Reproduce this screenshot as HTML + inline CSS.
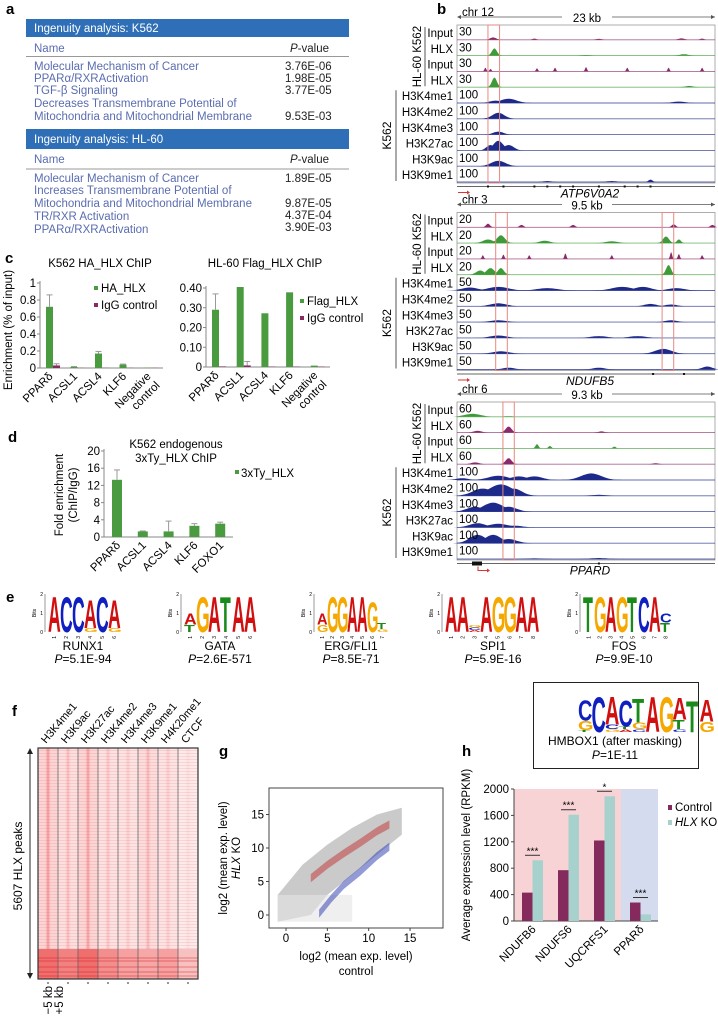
<!DOCTYPE html>
<html><head><meta charset="utf-8"><style>
html,body{margin:0;padding:0;background:#fff}
svg{display:block;font-family:"Liberation Sans",sans-serif}
</style></head><body>
<svg id="fig" width="718" height="1016" viewBox="0 0 718 1016" xmlns="http://www.w3.org/2000/svg">
<defs>
<linearGradient id="colg" x1="0" x2="1" y1="0" y2="0"><stop offset="0" stop-color="#fff" stop-opacity="0"/><stop offset="0.5" stop-color="#e8202a" stop-opacity="0.45"/><stop offset="1" stop-color="#fff" stop-opacity="0"/></linearGradient>
<pattern id="rows" width="4" height="3" patternUnits="userSpaceOnUse"><rect width="4" height="1" fill="#e83030" opacity="0.12"/></pattern>
</defs>
<!-- panel a -->
<g font-size="11.5">
<text x="6" y="14" font-size="15" font-weight="bold">a</text>
<rect x="26" y="19" width="323" height="18" fill="#2f6fb7"/>
<text x="34" y="32" fill="#fff">Ingenuity analysis: K562</text>
<text x="34" y="52" fill="#5a6db0">Name</text><text x="329" y="52" text-anchor="end" fill="#222"><tspan font-style="italic">P</tspan>-value</text>
<line x1="26" y1="56.5" x2="349" y2="56.5" stroke="#999" stroke-width="1"/>
<g fill="#5a6db0"><text x="34" y="70">Molecular Mechanism of Cancer</text><text x="34" y="82">PPARα/RXRActivation</text><text x="34" y="94">TGF-β Signaling</text><text x="34" y="107">Decreases Transmembrane Potential of</text><text x="34" y="120">Mitochondria and Mitochondrial Membrane</text></g>
<g fill="#222"><text x="285" y="70">3.76E-06</text><text x="285" y="82">1.98E-05</text><text x="285" y="94">3.77E-05</text><text x="285" y="120">9.53E-03</text></g>
<rect x="26" y="129" width="323" height="20" fill="#2f6fb7"/>
<text x="34" y="143" fill="#fff">Ingenuity analysis: HL-60</text>
<text x="34" y="163" fill="#5a6db0">Name</text><text x="329" y="163" text-anchor="end" fill="#222"><tspan font-style="italic">P</tspan>-value</text>
<line x1="26" y1="169" x2="349" y2="169" stroke="#999"/>
<g fill="#5a6db0"><text x="34" y="182">Molecular Mechanism of Cancer</text><text x="34" y="194">Increases Transmembrane Potential of</text><text x="34" y="207">Mitochondria and Mitochondrial Membrane</text><text x="34" y="220">TR/RXR Activation</text><text x="34" y="233">PPARα/RXRActivation</text></g>
<g fill="#222"><text x="285" y="182">1.89E-05</text><text x="285" y="207">9.87E-05</text><text x="285" y="219">4.37E-04</text><text x="285" y="231">3.90E-03</text></g>
</g>
<text x="437" y="14" font-size="15" font-weight="bold">b</text>
<g id="tracks"></g>
<g id="pc"></g>
<g id="pd"></g>
<g id="pe"></g>
<g id="pf"></g>
<g id="pg"></g>
<g id="ph"></g>
</svg>
<script>
const NS="http://www.w3.org/2000/svg";
function mk(parent,tag,attrs,text){const e=document.createElementNS(NS,tag);for(const k in attrs)e.setAttribute(k,attrs[k]);if(text!==undefined)e.textContent=text;parent.appendChild(e);return e;}

// ---------- panel c data ----------
const cCats=["PPARδ","ACSL1","ACSL4","KLF6","Negative control"];
const cLeftHA=[0.72,0.012,0.17,0.04,0.004];
const cLeftHAErr=[0.14,0.005,0.025,0.006,0];
const cLeftIgG=[0.03,0.002,0.002,0.002,0.002];
const cLeftIgGErr=[0.02,0,0,0,0];
const cLeftTicks=[0,0.2,0.4,0.6,0.8,1.0];
const cRightFlag=[0.29,0.405,0.272,0.378,0.007];
const cRightFlagErr=[0.08,0,0,0,0];
const cRightIgG=[0.003,0.008,0.002,0.002,0.002];
const cRightIgGErr=[0,0.02,0,0,0];
const cRightTicks=[0,0.10,0.20,0.30,0.40];
const cRightTickLabels=["0","0.10","0.20","0.30","0.40"];
// ---------- panel d data ----------
const dCats=["PPARδ","ACSL1","ACSL4","KLF6","FOXO1"];
const dVals=[13.3,1.3,1.3,2.6,3.1];
const dErr=[2.3,0.1,2.4,0.5,0.35];
const dTicks=[0,4,8,12,16,20];
// ---------- panel h data ----------
const hCats=["NDUFB6","NDUFS6","UQCRFS1","PPARδ"];
const hControl=[430,770,1220,280];
const hKO=[920,1610,1890,100];
const hSig=["***","***","*","***"];
const hTicks=[0,400,800,1200,1600,2000];
// ---------- panel g data ----------
const gTicks=[0,5,10,15];
const gGrayUpper=[[-1,3],[2,7.5],[5,10.5],[8,13],[11,15],[14,16]];
const gGrayLower=[[14,12],[11,9],[8,6],[5,3],[3,0],[-1,-1]];
const gRedX=[3,5,7,9,11,12.5];
const gRedY=[5.5,7.5,9.2,10.8,12.5,13.5];
const gBlueX=[4,5.5,7,9,11,12.5];
const gBlueY=[0.2,2.5,4.5,6.5,8.8,10.2];

function ylab(g,x,y,t,size){const e=mk(g,'text',{x:x,y:y,'text-anchor':'end','font-size':size||11});e.textContent=t;return e;}
function rotLabel(g,x,y,t,size,ang){return mk(g,'text',{x:x,y:y,'text-anchor':'end','font-size':size||11,transform:`rotate(${ang||-45} ${x} ${y})`},t);}

function barChart(g,o){
  const ys=v=>o.y0-(v/o.max)*(o.y0-o.yTop);
  mk(g,'line',{x1:o.x0,y1:o.yTop-2,x2:o.x0,y2:o.y0,stroke:'#888'});
  mk(g,'line',{x1:o.x0,y1:o.y0,x2:o.x1,y2:o.y0,stroke:'#888'});
  o.ticks.forEach((t,i)=>{mk(g,'line',{x1:o.x0-3,y1:ys(t),x2:o.x0,y2:ys(t),stroke:'#888'});ylab(g,o.x0-4,ys(t)+4,o.tickLabels?o.tickLabels[i]:String(t),11.5);});
  o.cats.forEach((c,i)=>{
    const bx=o.x0+o.off+i*o.step;
    const r=mk(g,'rect',{x:bx,y:ys(o.s1[i]),width:o.bw,height:o.y0-ys(o.s1[i]),fill:'#4a9a40'});
    
    
    if(o.e1[i]>0){mk(g,'line',{x1:bx+o.bw/2,y1:ys(o.s1[i]),x2:bx+o.bw/2,y2:ys(o.s1[i]+o.e1[i]),stroke:'#999'});mk(g,'line',{x1:bx+o.bw/2-3,y1:ys(o.s1[i]+o.e1[i]),x2:bx+o.bw/2+3,y2:ys(o.s1[i]+o.e1[i]),stroke:'#999'});}
    if(o.s2){const r2=mk(g,'rect',{x:bx+o.bw,y:ys(o.s2[i]),width:o.bw2,height:o.y0-ys(o.s2[i]),fill:'#8a2a5e'});
      
      
      if(o.e2[i]>0){const cx=bx+o.bw+o.bw2/2;mk(g,'line',{x1:cx,y1:ys(o.s2[i]),x2:cx,y2:ys(o.s2[i]+o.e2[i]),stroke:'#999'});mk(g,'line',{x1:cx-3,y1:ys(o.s2[i]+o.e2[i]),x2:cx+3,y2:ys(o.s2[i]+o.e2[i]),stroke:'#999'});}}
    const lx=bx+o.bw/2+4, ly=o.y0+9;
    if(c==="Negative control"){rotLabel(g,lx,ly,"Negative",11.5);rotLabel(g,lx+9,ly+9,"control",11.5);}
    else rotLabel(g,lx,ly,c,11.5);
  });
}
// panel c
const pc=document.getElementById('pc');
mk(pc,'text',{x:5,y:263,'font-size':15,'font-weight':'bold'},'c');
mk(pc,'text',{x:100,y:267,'text-anchor':'middle','font-size':11.5},'K562 HA_HLX ChIP');
mk(pc,'text',{x:265,y:267,'text-anchor':'middle','font-size':11.5},'HL-60 Flag_HLX ChIP');
mk(pc,'text',{x:12,y:330,'text-anchor':'middle','font-size':11.5,transform:'rotate(-90 12 330)'},'Enrichment (% of input)');
barChart(pc,{id:'c-left',x0:40,x1:163,y0:368,yTop:283,max:1.0,ticks:cLeftTicks,cats:cCats,s1:cLeftHA,e1:cLeftHAErr,s2:cLeftIgG,e2:cLeftIgGErr,off:6,step:24.5,bw:7,bw2:7});
barChart(pc,{id:'c-right',x0:206,x1:330,y0:367,yTop:288,max:0.40,ticks:cRightTicks,tickLabels:cRightTickLabels,cats:cCats,s1:cRightFlag,e1:cRightFlagErr,s2:cRightIgG,e2:cRightIgGErr,off:6,step:24.7,bw:7,bw2:7});
[[94,292,'#4a9a40','HA_HLX'],[94,309,'#8a2a5e','IgG control'],[300,305,'#4a9a40','Flag_HLX'],[300,322,'#8a2a5e','IgG control']].forEach(l=>{
  const s=mk(pc,'rect',{x:l[0],y:l[1]-6,width:4,height:4,fill:l[2]});
  
  
  mk(pc,'text',{x:l[0]+7,y:l[1],'font-size':11.5},l[3]);});
// panel d
const pd=document.getElementById('pd');
mk(pd,'text',{x:8,y:442,'font-size':15,'font-weight':'bold'},'d');
mk(pd,'text',{x:176,y:448,'text-anchor':'middle','font-size':11.5},'K562 endogenous');
mk(pd,'text',{x:176,y:462,'text-anchor':'middle','font-size':11.5},'3xTy_HLX ChIP');
mk(pd,'text',{x:63,y:495,'text-anchor':'middle','font-size':11.5,transform:'rotate(-90 63 495)'},'Fold enrichment');
mk(pd,'text',{x:77,y:495,'text-anchor':'middle','font-size':11.5,transform:'rotate(-90 77 495)'},'(ChIP/IgG)');
barChart(pd,{id:'d',x0:104,x1:233,y0:537,yTop:451,max:20,ticks:dTicks,cats:dCats,s1:dVals,e1:dErr,off:8,step:25.8,bw:10});
mk(pd,'rect',{x:235,y:470,width:4,height:4,fill:'#4a9a40'});
mk(pd,'text',{x:241,y:477,'font-size':11.5},'3xTy_HLX');

// ---------- panel b tracks ----------
const tracksG=document.getElementById('tracks');
const TX0=457,TX1=715,TW=TX1-TX0;
const COL={in:'#8b2a6b',hlx:'#3f9b3a',hm:'#1e2a8a'};
const g1Peaks=[
 ['in',[[0.14,0.2,3],[0.3,0.1,2],[0.55,0.08,3],[0.87,0.12,3],[0.95,0.1,2]]],
 ['hlx',[[0.145,0.6,2.5],[0.88,0.12,4],[0.5,0.05,4]]],
 ['in',[[0.11,0.3,1],[0.13,0.2,1],[0.31,0.25,1],[0.38,0.3,1],[0.5,0.35,1],[0.66,0.3,1],[0.82,0.3,1],[0.95,0.3,1]]],
 ['hlx',[[0.145,0.8,2.5],[0.9,0.1,4]]],
 ['hm',[[0.15,0.2,6],[0.2,0.35,8],[0.86,0.12,6]]],
 ['hm',[[0.16,0.5,6]]],
 ['hm',[[0.16,0.25,5]]],
 ['hm',[[0.13,0.45,4],[0.16,0.8,5],[0.2,0.45,5]]],
 ['hm',[[0.16,0.45,7]]],
 ['hm',[[0.6,0.08,5],[0.75,0.2,2],[0.35,0.08,4]]]];
const g2Peaks=[
 ['in',[[0.12,0.3,2],[0.25,0.2,2],[0.45,0.2,2],[0.84,0.25,2],[0.99,0.2,2]]],
 ['hlx',[[0.12,0.3,5],[0.17,0.65,4],[0.34,0.2,5],[0.6,0.15,6],[0.81,0.55,3],[0.86,0.3,2]]],
 ['in',[[0.1,0.3,1],[0.18,0.35,1],[0.28,0.3,1],[0.42,0.45,1],[0.6,0.3,1],[0.83,0.55,1],[0.86,0.4,1],[0.95,0.3,1]]],
 ['hlx',[[0.09,0.35,4],[0.13,0.55,4],[0.17,0.55,3],[0.82,0.8,2.5]]],
 ['hm',[[0.05,0.25,8],[0.16,0.3,10],[0.35,0.2,10],[0.64,0.3,10],[0.72,0.3,8],[0.85,0.2,8]]],
 ['hm',[[0.16,0.25,8],[0.75,0.2,6],[0.83,0.15,6]]],
 ['hm',[[0.16,0.15,8],[0.83,0.15,6]]],
 ['hm',[[0.16,0.2,8],[0.55,0.15,8],[0.7,0.15,8]]],
 ['hm',[[0.17,0.2,8],[0.8,0.4,8]]],
 ['hm',[[0.2,0.15,6],[0.55,0.15,6],[0.97,0.25,5]]]];
const g3Peaks=[
 ['hlx',[[0.06,0.25,8],[0.2,0.05,4]]],
 ['in',[[0.08,0.15,4],[0.2,0.5,3],[0.56,0.1,3]]],
 ['hlx',[[0.31,0.35,1.5],[0.36,0.2,1.5],[0.61,0.15,1.5]]],
 ['in',[[0.07,0.15,4],[0.2,0.5,3],[0.77,0.08,3]]],
 ['hm',[[0.02,0.15,6],[0.16,0.35,10],[0.24,0.3,8],[0.3,0.3,8],[0.52,0.55,10]]],
 ['hm',[[0.1,0.6,10],[0.17,0.95,12],[0.22,0.6,8],[0.55,0.08,8]]],
 ['hm',[[0.07,0.4,8],[0.14,0.75,10],[0.2,0.4,8]]],
 ['hm',[[0.08,0.35,8],[0.16,0.3,10],[0.22,0.15,8]]],
 ['hm',[[0.08,0.7,8],[0.14,0.7,8],[0.2,0.35,8]]],
 ['hm',[[0.55,0.08,8],[0.3,0.05,8]]]];
const groups=[
 {chr:'chr 12',kb:'23 kb',top:25,peaks:g1Peaks,scales:['30','30','30','30','100','100','100','100','100','100'],boxes:[[0.12,0.165]],gene:'ATP6V0A2',arrowX:458,geneTicks:[0.12,0.18,0.3,0.35,0.4,0.45,0.55,0.65,0.7,0.75]},
 {chr:'chr 3',kb:'9.5 kb',top:212.5,peaks:g2Peaks,scales:['20','20','20','20','50','50','50','50','50','50'],boxes:[[0.15,0.195],[0.795,0.84]],gene:'NDUFB5',arrowX:458,geneTicks:[0.76,0.88]},
 {chr:'chr 6',kb:'9.3 kb',top:402,peaks:g3Peaks,scales:['60','60','60','60','100','100','100','100','100','100'],boxes:[[0.178,0.222]],gene:'PPARD',arrowX:478,geneTicks:[0.55]}];
const TH=15.8;
const names=['Input','HLX','Input','HLX','H3K4me1','H3K4me2','H3K4me3','H3K27ac','H3K9ac','H3K9me1'];
function peakPath(base,cx,h,w){let d=`M${cx-3*w},${base}`;for(let k=-3;k<=3;k+=0.25){const x=cx+k*w;d+=` L${x.toFixed(1)},${(base-h*Math.exp(-k*k/2)).toFixed(1)}`;}return d+` L${cx+3*w},${base} Z`;}
groups.forEach((gr,gi)=>{
  const top=gr.top, bot=top+TH*10;
  const gg=mk(tracksG,'g',{});
  
  
  const ry=top-8;
  mk(gg,'line',{x1:TX0+2,y1:ry,x2:TX1,y2:ry,stroke:'#555','stroke-width':0.8});
  mk(gg,'path',{d:`M${TX0},${ry} l4,-2 v4 z M${TX1},${ry} l-4,-2 v4 z`,fill:'#555'});
  mk(gg,'rect',{x:TX0+48,y:ry-6,width:12,height:4,fill:'#fff'});
  mk(gg,'text',{x:TX0+5,y:ry-1,'font-size':11.5},gr.chr);
  mk(gg,'rect',{x:TX0+TW/2-24,y:ry-5,width:50,height:10,fill:'#fff'});
  mk(gg,'text',{x:TX0+TW/2+1,y:ry+5,'text-anchor':'middle','font-size':11.5},gr.kb);
  mk(gg,'rect',{x:TX0,y:top,width:TW,height:TH*10,fill:'none',stroke:'#999','stroke-width':0.8});
  gr.peaks.forEach((tr,ti)=>{
    const base=top+TH*(ti+1)-1;
    const c=COL[tr[0]];
    mk(gg,'line',{x1:TX0,y1:base,x2:TX1,y2:base,stroke:c,'stroke-width':0.9,opacity:0.7});
    tr[1].forEach(p=>{const pth=mk(gg,'path',{d:peakPath(base,TX0+p[0]*TW,p[1]*12,p[2]),fill:c});
      
      });
    mk(gg,'text',{x:TX0+2,y:top+TH*ti+10.5,'font-size':11.5},gr.scales[ti]);
    mk(gg,'text',{x:453,y:top+TH*ti+12,'text-anchor':'end','font-size':11.5},names[ti]);
  });
  gr.boxes.forEach(b=>mk(gg,'rect',{x:TX0+b[0]*TW,y:top,width:(b[1]-b[0])*TW,height:TH*10,fill:'none',stroke:'#e58a80','stroke-width':1}));
  const gy=bot+3.5;
  mk(gg,'line',{x1:TX0,y1:gy,x2:TX1,y2:gy,stroke:'#333','stroke-width':0.8});
  gr.geneTicks.forEach(t=>mk(gg,'rect',{x:TX0+t*TW-1,y:gy-1,width:2,height:2,fill:'#111'}));
  if(gi==2) mk(gg,'rect',{x:TX0+15,y:gy-2,width:10,height:4,fill:'#111'});
  mk(gg,'path',{d:gi==2?`M${gr.arrowX},${gy+3} v4 h10`:`M${gr.arrowX},${gy+6} h10`,stroke:'#d33',fill:'none','stroke-width':1});
  mk(gg,'path',{d:`M${gr.arrowX+12},${gy+(gi==2?7:6)} l-3,-2 v4 z`,fill:'#d33'});
  mk(gg,'text',{x:590,y:gy+11,'text-anchor':'middle','font-size':12,'font-style':'italic'},gr.gene);
  mk(gg,'line',{x1:425,y1:top+2,x2:425,y2:top+TH*4-2,stroke:'#555'});
  mk(gg,'text',{x:421,y:top+TH*2,'text-anchor':'middle','font-size':11.5,transform:`rotate(-90 421 ${top+TH*2})`},'HL-60 K562');
  mk(gg,'line',{x1:396,y1:top+TH*4+2,x2:396,y2:bot-2,stroke:'#555'});
  mk(gg,'text',{x:391,y:top+TH*7,'text-anchor':'middle','font-size':12,transform:`rotate(-90 391 ${top+TH*7})`},'K562');
});

// ---------- panel e motifs ----------
const pe=document.getElementById('pe');
mk(pe,'text',{x:6,y:602,'font-size':15,'font-weight':'bold'},'e');
const LC={A:'#d01010',C:'#1020c0',G:'#f5a800',T:'#1a8a1a'};
const motifNames=["RUNX1","GATA","ERG/FLI1","SPI1","FOS"];
const motifP=["5.1E-94","2.6E-571","8.5E-71","5.9E-16","9.9E-10"];
const motifSeqs=[
 [[['A',1.9]],[['C',1.9]],[['C',1.9]],[['A',1.5],['G',0.2]],[['C',1.9]],[['A',1.5],['G',0.2]]],
 [[['A',0.6],['T',0.4]],[['G',1.9]],[['A',1.9]],[['T',1.9]],[['A',1.9]],[['A',1.9]]],
 [[['A',0.6],['G',0.4]],[['G',1.9]],[['G',1.9]],[['A',1.9]],[['A',1.9]],[['G',1.6]],[['T',0.3],['G',0.15]]],
 [[['A',1.9]],[['A',1.9]],[['C',0.15],['G',0.15],['A',0.1]],[['A',1.9]],[['G',1.9]],[['G',1.9]],[['A',1.9]],[['A',1.9]]],
 [[['T',1.9]],[['G',1.9]],[['A',1.9]],[['G',1.9]],[['T',1.9]],[['C',1.9]],[['A',1.9]],[['T',0.5],['C',0.5]]]];
const motifX=[48,184,317,445,583];
const motifW=[12,12,10,11.7,11];
const motifCX=[83,220,351,493,624];
const LB=632, BIT=19;
function drawLetter(g,ch,x,w,y0,h){
  if(h<0.5)return;
  const fs=20;
  const sx=w/(fs*0.68), sy=h/(fs*0.72);
  const t=mk(g,'text',{x:0,y:0,'font-size':fs,'font-weight':'bold',fill:LC[ch],transform:`translate(${x},${y0}) scale(${sx.toFixed(3)},${sy.toFixed(3)})`},ch);
  
  
}
motifSeqs.forEach((m,mi)=>{
  const g=mk(pe,'g',{});
  
  
  const x0=motifX[mi], w=motifW[mi];
  mk(g,'line',{x1:x0-3,y1:LB-2*BIT,x2:x0-3,y2:LB,stroke:'#555','stroke-width':0.6});
  [0,1,2].forEach(b=>{mk(g,'text',{x:x0-5,y:LB-b*BIT+2,'font-size':5,'text-anchor':'end'},String(b));});
  mk(g,'text',{x:x0-12,y:LB-BIT,'font-size':5,'text-anchor':'middle',transform:`rotate(-90 ${x0-12} ${LB-BIT})`},'Bits');
  m.forEach((col,ci)=>{
    let y=LB;
    const sorted=col.slice().sort((a,b)=>a[1]-b[1]);
    sorted.forEach(l=>{const h=l[1]*BIT;drawLetter(g,l[0],x0+ci*w,w,y,h);y-=h;});
    mk(g,'text',{x:x0+ci*w+w/2+2,y:LB+4,'font-size':5,transform:`rotate(-90 ${x0+ci*w+w/2+2} ${LB+4})`,'text-anchor':'end'},String(ci+1));
  });
  mk(g,'text',{x:motifCX[mi],y:650,'text-anchor':'middle','font-size':12},motifNames[mi]);
  const p=mk(g,'text',{x:motifCX[mi],y:663,'text-anchor':'middle','font-size':12});
  mk(p,'tspan',{'font-style':'italic'},'P');mk(p,'tspan',{},'='+motifP[mi]);
});
const hb=mk(pe,'g',{});


mk(hb,'rect',{x:533.5,y:682.5,width:165,height:86,fill:'none',stroke:'#222','stroke-width':1});
const hmSeq=[[['T',0.1],['G',0.5],['C',1.1]],[['C',1.9]],[['G',0.15],['C',0.25],['A',1.5]],[['A',0.15],['T',0.15],['C',1.4]],[['C',0.15],['G',0.35],['T',1.3]],[['A',1.9]],[['G',1.9]],[['C',0.15],['T',0.5],['A',1.2]],[['T',1.7]],[['G',0.55],['A',1.2]]];
let hx=578;
hmSeq.forEach((col,ci)=>{let y=732;col.forEach(l=>{const h=l[1]*BIT;drawLetter(hb,l[0],hx+ci*13.5,13.5,y,h);y-=h;});});
mk(hb,'text',{x:615,y:745,'text-anchor':'middle','font-size':12},'HMBOX1 (after masking)');
const hp=mk(hb,'text',{x:615,y:759,'text-anchor':'middle','font-size':12});mk(hp,'tspan',{'font-style':'italic'},'P');mk(hp,'tspan',{},'=1E-11');

// ---------- panel f heatmap ----------
const pf=document.getElementById('pf');
const fCols=["H3K4me1","H3K9ac","H3K27ac","H3K4me2","H3K4me3","H3K9me1","H4K20me1","CTCF"];
const fIntensity=[0.95,0.55,0.85,0.45,0.35,0.6,0.35,0.15];
const fBottom=[1.0,0.85,1.0,0.75,0.6,0.55,0.6,0.35];
const FX0=38,FX1=198,FY0=748,FY1=979,FYB=949;
mk(pf,'text',{x:12,y:716,'font-size':15,'font-weight':'bold'},'f');
const fcw=(FX1-FX0)/fCols.length;
mk(pf,'rect',{x:FX0,y:FY0,width:FX1-FX0,height:FY1-FY0,fill:'#fdeeee'});
mk(pf,'rect',{x:FX0,y:FY0,width:FX1-FX0,height:FYB-FY0,fill:'url(#rows)'});
fCols.forEach((c,i)=>{
  const x=FX0+i*fcw;
  const a=mk(pf,'rect',{x:x,y:FY0,width:fcw,height:FYB-FY0,fill:'#ef4a4a','fill-opacity':(fIntensity[i]*0.16).toFixed(2)});
  
  
  mk(pf,'rect',{x:x+fcw*0.3,y:FY0,width:fcw*0.4,height:FYB-FY0,fill:'url(#colg)',opacity:fIntensity[i]*0.9});
  mk(pf,'rect',{x:x,y:FYB,width:fcw,height:FY1-FYB,fill:'#e82a2a','fill-opacity':(fBottom[i]*0.65).toFixed(2)});
  if(i>0) mk(pf,'line',{x1:x,y1:FY0,x2:x,y2:FY1,stroke:'#666','stroke-width':0.8});
  const lbl=mk(pf,'text',{x:x+fcw/2-2,y:744,'text-anchor':'start','font-size':11,transform:`rotate(-50 ${x+fcw/2-2} 744)`},c);
  
  
  mk(pf,'line',{x1:x+fcw/2,y1:982,x2:x+fcw/2,y2:984,stroke:'#333'});
});
[958,961,967,972,976].forEach(y=>mk(pf,'line',{x1:FX0,y1:y,x2:FX1,y2:y,stroke:'#d81818','stroke-width':0.7,opacity:0.6}));
mk(pf,'rect',{x:FX0,y:FY0,width:FX1-FX0,height:FY1-FY0,fill:'none',stroke:'#333','stroke-width':1.2});
mk(pf,'line',{x1:30,y1:752,x2:30,y2:975,stroke:'#222'});
mk(pf,'path',{d:'M30,748 l-3,6 h6 z M30,979 l-3,-6 h6 z',fill:'#222'});
mk(pf,'text',{x:22,y:866,'text-anchor':'middle','font-size':12,transform:'rotate(-90 22 866)'},'5607 HLX peaks');
mk(pf,'text',{x:52,y:986,'text-anchor':'end','font-size':11.5,transform:'rotate(-90 52 986)'},'−5 kb');
mk(pf,'text',{x:63,y:986,'text-anchor':'end','font-size':11.5,transform:'rotate(-90 63 986)'},'+5 kb');

// ---------- panel g scatter ----------
const pg=document.getElementById('pg');
const GX0=269,GX1=443,GY0=788,GY1=928;
const gx=v=>286+v*8.27, gy=v=>915-v*6.7;
mk(pg,'text',{x:219,y:756,'font-size':15,'font-weight':'bold'},'g');
const gPoly=gGrayUpper.concat(gGrayLower).map(p=>gx(p[0]).toFixed(1)+','+gy(p[1]).toFixed(1)).join(' ');
const gp=mk(pg,'polygon',{points:gPoly,fill:'#bdbdbd',opacity:0.8});


mk(pg,'rect',{x:gx(-1),y:gy(3),width:gx(8)-gx(-1),height:gy(-1)-gy(3),fill:'#e4e4e4',opacity:0.6});
function band(xs,ys,col,name){const pts=xs.map((x,i)=>gx(x).toFixed(1)+','+gy(ys[i]+0.6).toFixed(1)).concat(xs.slice().reverse().map((x,i)=>gx(x).toFixed(1)+','+gy(ys[ys.length-1-i]-0.6).toFixed(1))).join(' ');
  const p=mk(pg,'polygon',{points:pts,fill:col,opacity:0.5});
  
  }
band(gRedX,gRedY,'#c03030','upregulated-points');
band(gBlueX,gBlueY,'#2838b0','downregulated-points');
mk(pg,'rect',{x:GX0,y:GY0,width:GX1-GX0,height:GY1-GY0,fill:'none',stroke:'#444','stroke-width':1});
gTicks.forEach(t=>{mk(pg,'line',{x1:gx(t),y1:GY1,x2:gx(t),y2:GY1+3,stroke:'#444'});mk(pg,'text',{x:gx(t),y:942,'text-anchor':'middle','font-size':11.5},String(t));
  mk(pg,'line',{x1:GX0-3,y1:gy(t),x2:GX0,y2:gy(t),stroke:'#444'});mk(pg,'text',{x:GX0-5,y:gy(t)+4,'text-anchor':'end','font-size':11.5},String(t));});
mk(pg,'text',{x:356,y:960,'text-anchor':'middle','font-size':11.5},'log2 (mean exp. level)');
mk(pg,'text',{x:356,y:975,'text-anchor':'middle','font-size':11.5},'control');
mk(pg,'text',{x:227,y:858,'text-anchor':'middle','font-size':11.5,transform:'rotate(-90 227 858)'},'log2 (mean exp. level)');
const gyl=mk(pg,'text',{x:240,y:858,'text-anchor':'middle','font-size':11.5,transform:'rotate(-90 240 858)'});
mk(gyl,'tspan',{'font-style':'italic'},'HLX');mk(gyl,'tspan',{},' KO');

// ---------- panel h bars ----------
const ph=document.getElementById('ph');
const HX0=514,HX1=658,HY0=921,HYT=789;
const hy=v=>HY0-(v/2000)*(HY0-HYT);
const hStep=36,hBw=10.5;
mk(ph,'text',{x:462,y:756,'font-size':15,'font-weight':'bold'},'h');
mk(ph,'rect',{x:HX0,y:HYT,width:621-HX0,height:HY0-HYT,fill:'#f8d3d6'});
mk(ph,'rect',{x:621,y:HYT,width:HX1-621,height:HY0-HYT,fill:'#d5dbee'});
mk(ph,'line',{x1:HX0,y1:HYT,x2:HX0,y2:HY0,stroke:'#444'});
mk(ph,'line',{x1:HX0,y1:HY0,x2:HX1,y2:HY0,stroke:'#444'});
hTicks.forEach(t=>{mk(ph,'line',{x1:HX0-3,y1:hy(t),x2:HX0,y2:hy(t),stroke:'#444'});mk(ph,'text',{x:HX0-5,y:hy(t)+4,'text-anchor':'end','font-size':11.5},String(t));});
hCats.forEach((c,i)=>{
  const x=HX0+8+i*hStep;
  const r1=mk(ph,'rect',{x:x,y:hy(hControl[i]),width:hBw,height:HY0-hy(hControl[i]),fill:'#842a5c'});
  
  
  const r2=mk(ph,'rect',{x:x+hBw,y:hy(hKO[i]),width:hBw,height:HY0-hy(hKO[i]),fill:'#a6d1cc'});
  
  
  const top=hy(Math.max(hControl[i],hKO[i]))-5;
  mk(ph,'line',{x1:x+3,y1:top,x2:x+hBw*2-3,y2:top,stroke:'#333'});
  mk(ph,'text',{x:x+hBw,y:top-1,'text-anchor':'middle','font-size':10},hSig[i]);
  rotLabel(ph,x+hBw+4,HY0+9,c,11.5);
});
mk(ph,'text',{x:470,y:855,'text-anchor':'middle','font-size':11.5,transform:'rotate(-90 470 855)'},'Average expression level (RPKM)');
mk(ph,'rect',{x:668,y:805,width:4,height:5,fill:'#842a5c'});
mk(ph,'text',{x:675,y:811,'font-size':11.5},'Control');
mk(ph,'rect',{x:668,y:820,width:4,height:5,fill:'#a6d1cc'});
const hl=mk(ph,'text',{x:675,y:826,'font-size':11.5});mk(hl,'tspan',{'font-style':'italic'},'HLX');mk(hl,'tspan',{},' KO');
</script>
</body></html>
